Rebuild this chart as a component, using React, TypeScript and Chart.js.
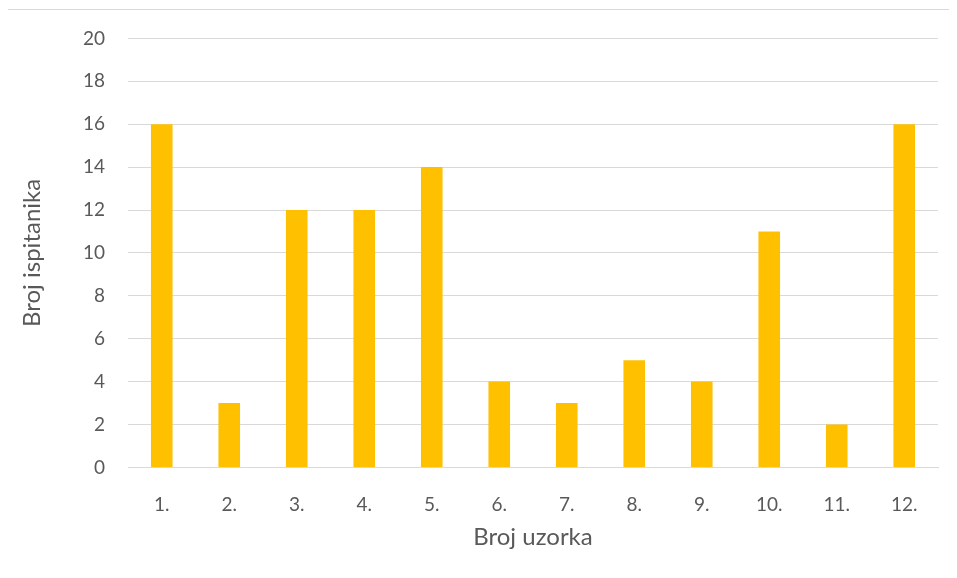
import React, { useEffect, useRef } from "react";
import { Chart, registerables } from "chart.js";

Chart.register(...registerables);

const categories = ["1.", "2.", "3.", "4.", "5.", "6.", "7.", "8.", "9.", "10.", "11.", "12."];
const values = [16, 3, 12, 12, 14, 4, 3, 5, 4, 11, 2, 16];
const yTitle = "Broj ispitanika";
const xTitle = "Broj uzorka";

export default function App() {
  const ref = useRef<HTMLCanvasElement | null>(null);

  useEffect(() => {
    if (!ref.current) return;
    const chart = new Chart(ref.current, {
      type: "bar",
      data: {
        labels: categories,
        datasets: [
          {
            data: values,
            backgroundColor: "#FFC000",
            borderWidth: 0,
            barPercentage: 0.32,
            categoryPercentage: 1,
          },
        ],
      },
      options: {
        responsive: false,
        animation: false,
        maintainAspectRatio: false,
        layout: { padding: { left: 10, right: 19, top: 13, bottom: 27 } },
        plugins: { legend: { display: false }, tooltip: { enabled: false } },
        scales: {
          x: {
            grid: { display: false, drawTicks: false },
            border: { display: true, color: "#D9D9D9", width: 1 },
            ticks: { color: "#595959", font: { family: "Lato", size: 19 }, padding: 26 },
            title: {
              display: true,
              text: xTitle,
              color: "#595959",
              font: { family: "Lato", size: 24 },
              padding: { top: -19, bottom: 0 },
            },
          },
          y: {
            min: 0,
            max: 20,
            ticks: { stepSize: 2, color: "#595959", font: { family: "Lato", size: 19 }, padding: 23 },
            grid: { color: "#D9D9D9", lineWidth: 1, drawTicks: false },
            border: { display: false },
            title: {
              display: true,
              text: yTitle,
              color: "#595959",
              font: { family: "Lato", size: 24 },
              padding: 0,
            },
            afterFit: (scale: any) => {
              scale.width = 110;
            },
          },
        },
      },
    });
    return () => chart.destroy();
  }, []);

  return (
    <div
      style={{
        position: "relative",
        width: 960,
        height: 580,
        marginLeft: -1,
        marginTop: 1,
        borderTop: "1px solid #D9D9D9",
        borderLeft: "1px solid #D9D9D9",
        boxSizing: "border-box",
      }}
    >
      <canvas ref={ref} width={949} height={575} style={{ position: "absolute", left: 0, top: -6, display: "block" }} />
    </div>
  );
}
